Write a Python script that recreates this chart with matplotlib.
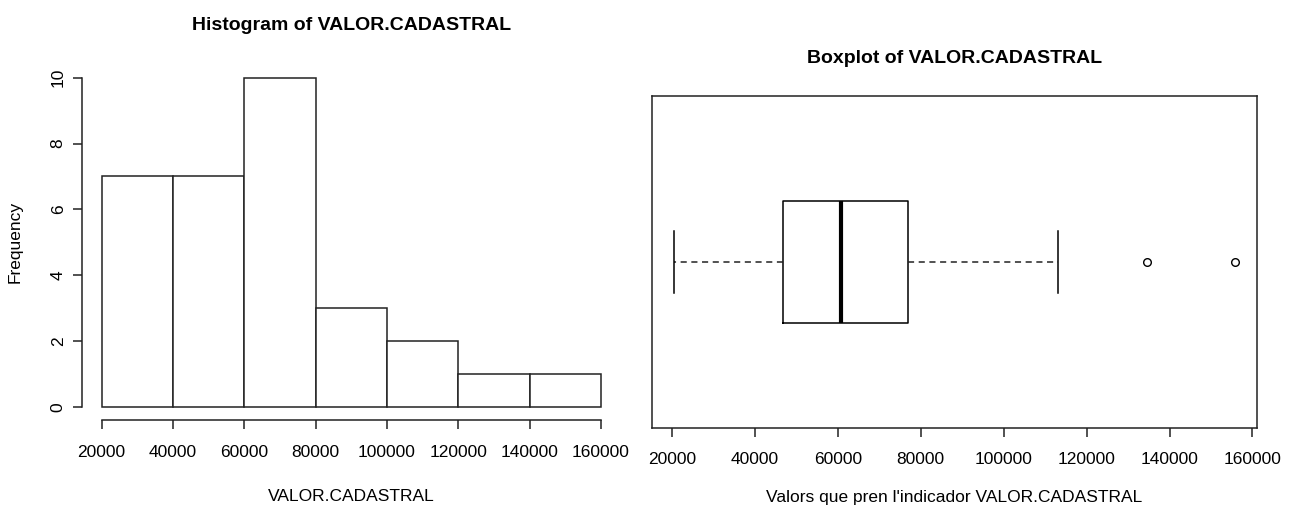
import matplotlib
matplotlib.use("Agg")
import matplotlib.pyplot as plt
import numpy as np

plt.rcParams['font.family'] = ['Liberation Sans', 'DejaVu Sans']

# histogram data (bin edges + counts)
bin_edges = [20000, 40000, 60000, 80000, 100000, 120000, 140000, 160000]
counts = [7, 7, 10, 3, 2, 1, 1]
hist_xticks = [20000, 40000, 60000, 80000, 100000, 120000, 140000, 160000]
hist_yticks = [0, 2, 4, 6, 8, 10]

# boxplot summary
whisker_low = 20600
q1 = 46700
median = 60800
q3 = 76900
whisker_high = 113100
outliers = [134600, 155700]
box_xticks = [20000, 40000, 60000, 80000, 100000, 120000, 140000, 160000]

W, H = 1289, 512
fig = plt.figure(figsize=(W / 100, H / 100), dpi=100)
line_col = '#222222'
tick_fs = 12.5

def px_axes(l, t, r, b):
    return fig.add_axes([l / W, 1 - b / H, (r - l) / W, (b - t) / H])

'Histogram'
ax1 = px_axes(81.7, 64.5, 621, 420)
widths = np.diff(bin_edges)
ax1.bar(bin_edges[:-1], counts, width=widths, align='edge',
        facecolor='white', edgecolor=line_col, linewidth=1.1)
ax1.set_xlim(14400, 165600)
ax1.set_ylim(-0.4, 10.4)
ax1.set_xticks(hist_xticks)
ax1.set_yticks(hist_yticks)
ax1.set_yticklabels([str(v) for v in hist_yticks], rotation=90, va='center')
for s in ['top', 'right']:
    ax1.spines[s].set_visible(False)
ax1.spines['left'].set_bounds(0, 10)
ax1.spines['bottom'].set_bounds(20000, 160000)
for s in ['left', 'bottom']:
    ax1.spines[s].set_color(line_col)
    ax1.spines[s].set_linewidth(1.1)
ax1.tick_params(length=6.5, width=1.1, color=line_col, labelsize=tick_fs)
ax1.tick_params(axis='x', pad=11.5)
ax1.tick_params(axis='y', pad=5)
ax1.set_title("Histogram of VALOR.CADASTRAL", fontsize=14, fontweight='bold', pad=25)
ax1.set_xlabel("VALOR.CADASTRAL", fontsize=tick_fs, labelpad=21)
ax1.set_ylabel("Frequency", fontsize=tick_fs, labelpad=20)

'Boxplot (horizontal, R style)'
ax2 = px_axes(652, 96, 1257, 428)
stats = [{'whislo': whisker_low, 'q1': q1, 'med': median, 'q3': q3,
          'whishi': whisker_high, 'fliers': outliers}]
ax2.bxp(stats, positions=[1], widths=0.4, vert=False, showfliers=True,
        boxprops=dict(color='black', linewidth=1.1),
        medianprops=dict(color='black', linewidth=3),
        whiskerprops=dict(color=line_col, linestyle=(0, (4, 3)), linewidth=1.1),
        capprops=dict(color='black', linewidth=1.1),
        capwidths=0.2,
        flierprops=dict(marker='o', markersize=5.5, markerfacecolor='none',
                        markeredgecolor='black', markeredgewidth=1))
ax2.set_xlim(15200, 161100)
ax2.set_ylim(0.46, 1.54)
ax2.set_xticks(box_xticks)
ax2.set_xticklabels([str(v) for v in box_xticks])
ax2.set_yticks([])
for s in ax2.spines.values():
    s.set_color(line_col)
    s.set_linewidth(1.1)
ax2.tick_params(length=6.5, width=1.1, color=line_col, labelsize=tick_fs, pad=10.5)
ax2.set_title("Boxplot of VALOR.CADASTRAL", fontsize=14, fontweight='bold', pad=24)
ax2.set_xlabel("Valors que pren l'indicador VALOR.CADASTRAL", fontsize=tick_fs, labelpad=17)

fig.savefig("out.png", dpi=100, facecolor='white')
